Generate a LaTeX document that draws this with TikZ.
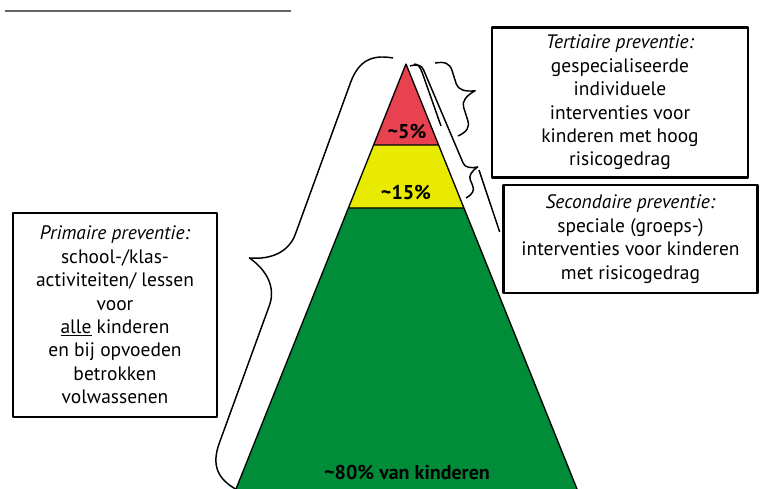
\documentclass[tikz,border=0pt]{standalone}
\usepackage{fontspec}
\setmainfont{PT Sans}
\usetikzlibrary{positioning,calc}
\definecolor{pyrred}{RGB}{232,66,80}
\definecolor{pyryellow}{RGB}{232,234,0}
\definecolor{pyrgreen}{RGB}{0,140,56}
\tikzset{
	box/.style={draw,line width=2.2pt,align=center,inner sep=0pt,font=\fontsize{14.6}{17.6}\selectfont},
	pct/.style={font=\fontsize{15}{17}\selectfont\bfseries},
	pics/curly/.style n args={5}{code={%
		\draw[line width=1.1pt] (0,0) .. controls (0.1*#5,0.7*#3) and (0.4*#5,#3) .. (#5,#3)
		-- ({#2-#5},#3) .. controls ({#2-0.5*#5},#3) and ({#2-0.15*#5},{#3+0.4*#4}) .. (#2,{#3+#4})
		.. controls ({#2+0.15*#5},{#3+0.4*#4}) and ({#2+0.5*#5},#3) .. ({#2+#5},#3)
		-- ({#1-#5},#3) .. controls ({#1-0.4*#5},#3) and ({#1-0.1*#5},0.7*#3) .. (#1,0);}}
}
\begin{document}
\begin{tikzpicture}[x=0.75pt,y=-0.75pt,line join=round]
	\useasboundingbox (0,0) rectangle (768,489);
	\draw[black!60,line width=1.6pt] (5,11)--(291,11);
	% pyramid
	\coordinate (top) at (406,64);
	\coordinate (bl) at (236,489);
	\coordinate (br) at (577,489);
	\coordinate (l1) at ($(top)!.1906!(bl)$);
	\coordinate (r1) at ($(top)!.1906!(br)$);
	\coordinate (l2) at ($(top)!.3388!(bl)$);
	\coordinate (r2) at ($(top)!.3388!(br)$);
	\fill[pyrred] (top)--(r1)--(l1)--cycle;
	\fill[pyryellow] (l1)--(r1)--(r2)--(l2)--cycle;
	\fill[pyrgreen] (l2)--(r2)--(br)--(bl)--cycle;
	\draw[line width=1pt] (bl)--(top)--(br) (l1)--(r1) (l2)--(r2);
	\node[pct] (p5) at (407,131) {\textasciitilde5\%};
	\node[pct] (p15) at (406,192) {\textasciitilde15\%};
	\node[pct] (p80) at (407,472) {\textasciitilde80\% van kinderen};
	% boxes
	\node[box,minimum width=192pt,minimum height=113pt] (tert) at (620,102.5)
		{\textit{Tertiaire preventie:}\\gespecialiseerde\\individuele\\interventies voor\\kinderen met hoog\\risicogedrag};
	\node[box,minimum width=191pt,minimum height=81pt] (sec) at (630.5,239)
		{\textit{Secondaire preventie:}\\speciale (groeps-)\\interventies voor kinderen\\met risicogedrag};
	\node[box,minimum width=153pt,minimum height=153pt] (prim) at (115,315)
		{\textit{Primaire preventie:}\\school-/klas-\\activiteiten/ lessen\\voor\\\underline{alle} kinderen\\en bij opvoeden\\betrokken\\volwassenen};
	% braces
	\pic[rotate=-110] at (393,58) {curly={459}{237}{31.5}{35}{38}};
	\pic[rotate=107.5] at (458,136) {curly={76.5}{38}{14}{16}{12}};
	\pic[rotate=113] at (466,198) {curly={143.4}{24}{11}{12}{9}};
	\coordinate (stip) at (479,170);
	\coordinate (secin) at ($(sec.west)+(-2,-7)$);
	\draw[line width=1.1pt] (stip)--(secin);
	\draw[line width=1.1pt] (414,64) .. controls (418,64) and (420,67) .. (422,72) -- (441,126);
\end{tikzpicture}
\end{document}
